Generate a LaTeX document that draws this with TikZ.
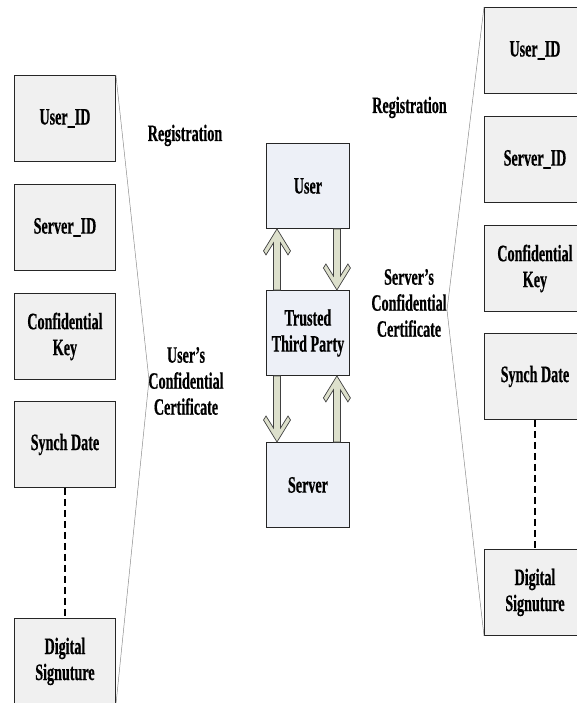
\documentclass[tikz,border=0pt]{standalone}
\usepackage{fontspec}
\setmainfont{Liberation Serif}[FakeStretch=0.6, BoldFeatures={FakeStretch=0.6, FakeBold=0.5}]
\usetikzlibrary{calc}

\definecolor{fieldgray}{RGB}{240,240,240}
\definecolor{partyblue}{RGB}{237,240,247}
\definecolor{arrowfill}{RGB}{221,224,204}
\definecolor{edgegray}{RGB}{64,64,64}

\tikzset{
  txt/.style={font=\fontsize{23.5}{26}\selectfont\bfseries, align=center, inner sep=0pt},
  field/.style={txt, draw=black!85, line width=0.9pt, fill=fieldgray,
    minimum width=101pt, minimum height=86pt, anchor=north west},
  party/.style={txt, draw=black!85, line width=0.9pt, fill=partyblue,
    minimum width=83pt, minimum height=85pt, anchor=north west},
  fatarrow/.style={draw=edgegray, line width=0.7pt, fill=arrowfill, line join=miter},
  bracket/.style={draw=black!45, line width=0.5pt},
  gap/.style={line width=2.2pt, dash pattern=on 7pt off 4pt},
}

% vertical block arrow with a chevron head: #1 tail, #2 tip
\newcommand\fatarrow[2]{%
  \draw[fatarrow] let \p1=(#1), \p2=(#2), \n1={ifthenelse(\y2>\y1,1,-1)} in
    (\x2,\y2)
    -- ({\x2-13.5pt},{\y2-\n1*22pt}) -- ({\x2-11pt},{\y2-\n1*26pt})
    -- ({\x2-3.5pt},{\y2-\n1*14pt}) -- ({\x2-3.5pt},\y1)
    -- ({\x2+3.5pt},\y1) -- ({\x2+3.5pt},{\y2-\n1*14pt})
    -- ({\x2+11pt},{\y2-\n1*26pt}) -- ({\x2+13.5pt},{\y2-\n1*22pt})
    -- cycle;
}

\begin{document}
\begin{tikzpicture}[x=1pt, y=-1pt]
\useasboundingbox (0,0) rectangle (576,703);

% user's certificate fields
\node[field] (lu) at (14,75)  {User\_ID};
\node[field] (ls) at (14,184) {Server\_ID};
\node[field] (lk) at (14,293) {Confidential\\Key};
\node[field] (ld) at (14,401) {Synch Date};
\node[field] (lg) at (14,618) {Digital\\Signuture};

% server's certificate fields
\node[field] (ru) at (484,7)   {User\_ID};
\node[field] (rs) at (484,116) {Server\_ID};
\node[field] (rk) at (484,225) {Confidential\\Key};
\node[field] (rd) at (484,333) {Synch Date};
\node[field] (rg) at (484,549) {Digital\\Signuture};

% parties
\node[party] (user) at (266,143) {User};
\node[party] (ttp)  at (266,290) {Trusted\\Third Party};
\node[party] (srv)  at (266,442) {Server};

% labels
\node[txt, anchor=base] (reg1) at (185,141) {Registration};
\node[txt, anchor=base] (reg2) at (409.5,113) {Registration};
\node[txt] (ucert) at (186,381) {User's\\Confidential\\Certificate};
\node[txt] (scert) at (409,303) {Server's\\Confidential\\Certificate};

% brackets gathering the fields
\coordinate (lpeak) at (149,380);
\coordinate (rpeak) at (447,310);
\draw[bracket] (lu.north east) -- (lpeak) -- (lg.south east);
\draw[bracket] (ru.north west) -- (rpeak) -- (rg.south west);

% omitted fields
\draw[gap] (ld.south) -- (lg.north);
\draw[gap] (rd.south) -- (rg.north);

% exchanges with the trusted third party
\coordinate (a1t) at ($(ttp.north west)+(11,0)$);
\coordinate (a1h) at ($(user.south west)+(11,0)$);
\coordinate (a2t) at ($(user.south east)+(-13,0)$);
\coordinate (a2h) at ($(ttp.north east)+(-13,0)$);
\coordinate (a3t) at ($(ttp.south west)+(11,0)$);
\coordinate (a3h) at ($(srv.north west)+(11,0)$);
\coordinate (a4t) at ($(srv.north east)+(-13,0)$);
\coordinate (a4h) at ($(ttp.south east)+(-13,0)$);
\fatarrow{a1t}{a1h}
\fatarrow{a2t}{a2h}
\fatarrow{a3t}{a3h}
\fatarrow{a4t}{a4h}
\end{tikzpicture}
\end{document}
